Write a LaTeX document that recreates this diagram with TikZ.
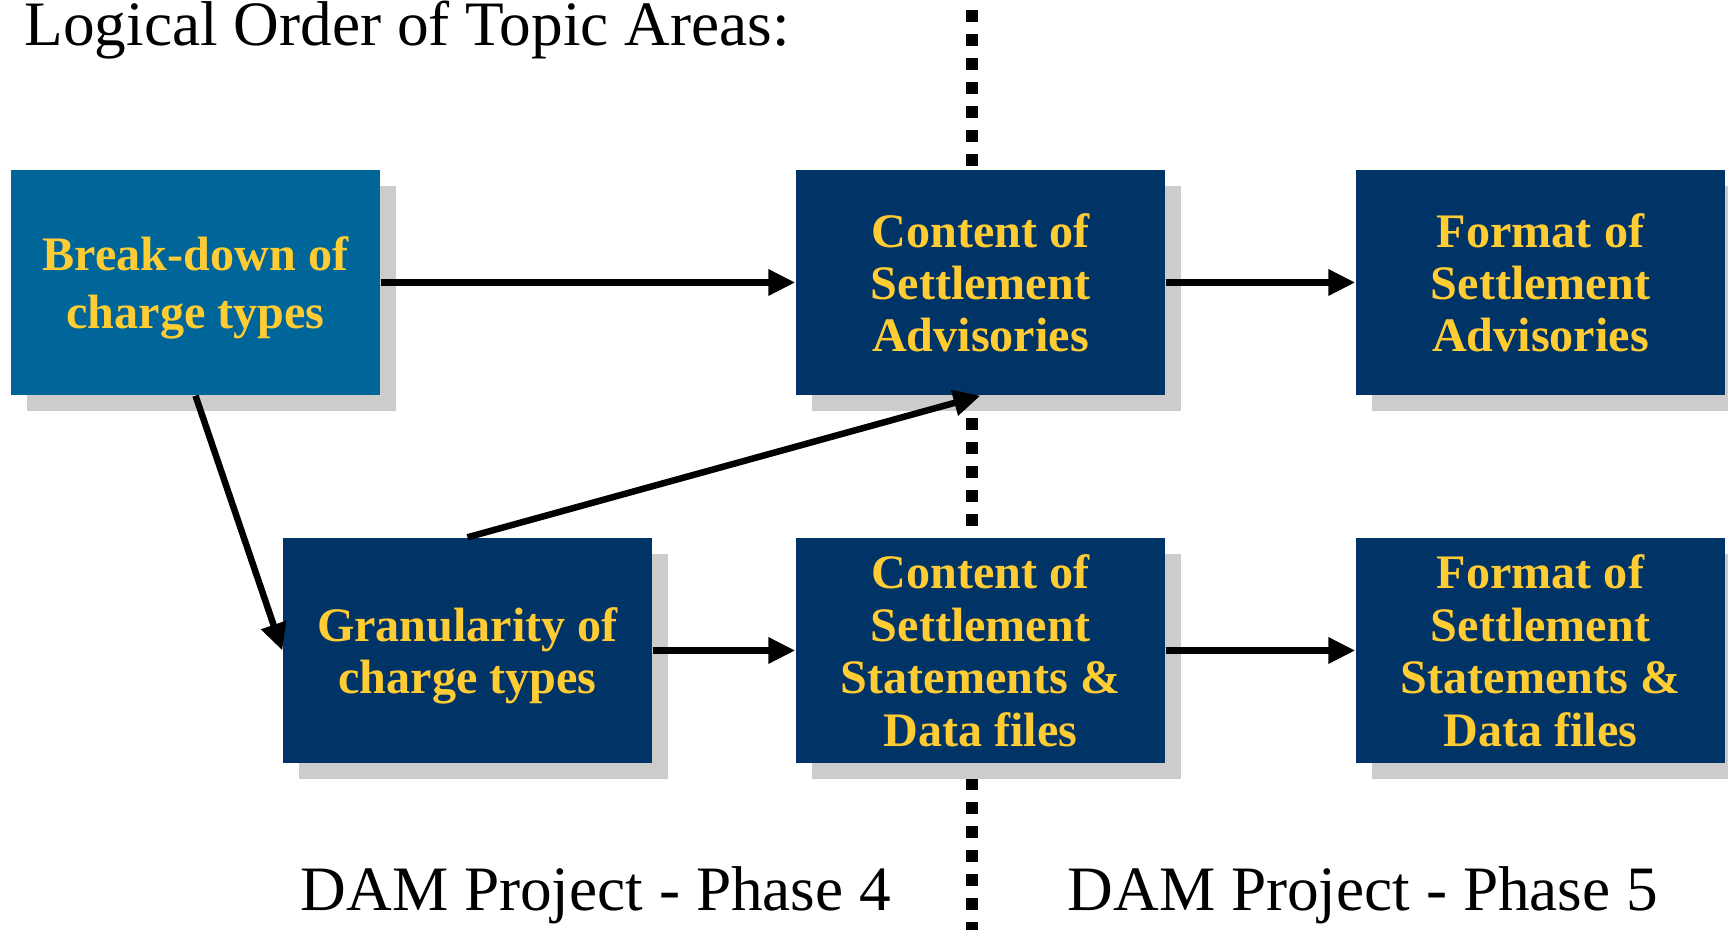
\documentclass[tikz,border=0pt]{standalone}
\usepackage{fontspec}
\setmainfont{Liberation Serif}
\definecolor{navybox}{RGB}{0, 51, 102}
\definecolor{tealbox}{RGB}{0, 102, 153}
\definecolor{goldtext}{RGB}{255, 204, 51}
\definecolor{shadowgray}{RGB}{204, 204, 204}
\usepackage{tikz}
\usetikzlibrary{arrows.meta, shadows}

\tikzset{
  topic/.style={fill=navybox, text=goldtext, minimum width=3.69cm, minimum height=2.25cm,
    inner sep=0pt, align=center, text depth=0pt, font=\fontsize{13.7}{14.9}\selectfont\bfseries,
    drop shadow={shadow xshift=0.16cm, shadow yshift=-0.16cm, fill=shadowgray, opacity=1}},
  flow/.style={line width=0.065cm, -{Triangle[length=0.27cm, width=0.25cm]}},
  caption/.style={inner sep=0pt, anchor=base west, font=\fontsize{18}{21.6}\selectfont}
}

\begin{document}
\begin{tikzpicture}
  \useasboundingbox (0,0) rectangle (17.28,-9.30);

  % Phase divider
  \coordinate (divtop) at (9.72,-0.10);
  \coordinate (divbot) at (9.72,-9.30);
  \draw[line width=0.12cm, dash pattern=on 0.12cm off 0.12cm] (divtop) -- (divbot);

  \node[caption] (title) at (0.24,-0.46) {Logical Order of Topic Areas:};

  % Top row
  \node[topic, fill=tealbox, font=\fontsize{13.7}{16.5}\selectfont\bfseries] (brk) at (1.955,-2.825) {Break-down of\\charge types};
  \node[topic] (cadv) at (9.805,-2.825) {Content of\\Settlement\\Advisories};
  \node[topic] (fadv) at (15.405,-2.825) {Format of\\Settlement\\Advisories};

  % Bottom row
  \node[topic] (gran) at (4.675,-6.505) {Granularity of\\charge types};
  \node[topic] (cstm) at (9.805,-6.505) {Content of\\Settlement\\Statements \&\\Data files};
  \node[topic] (fstm) at (15.405,-6.505) {Format of\\Settlement\\Statements \&\\Data files};

  % Arrows
  \draw[flow] (brk.east) -- (cadv.west);
  \draw[flow] (cadv.east) -- (fadv.west);
  \draw[flow] (gran.east) -- (cstm.west);
  \draw[flow] (cstm.east) -- (fstm.west);
  \draw[flow] (brk.south) -- (gran.west);
  \draw[flow] (gran.north) -- (cadv.south);

  % Phase labels
  \node[caption] (ph4) at (3.00,-9.11) {DAM Project - Phase 4};
  \node[caption] (ph5) at (10.67,-9.11) {DAM Project - Phase 5};
\end{tikzpicture}
\end{document}
